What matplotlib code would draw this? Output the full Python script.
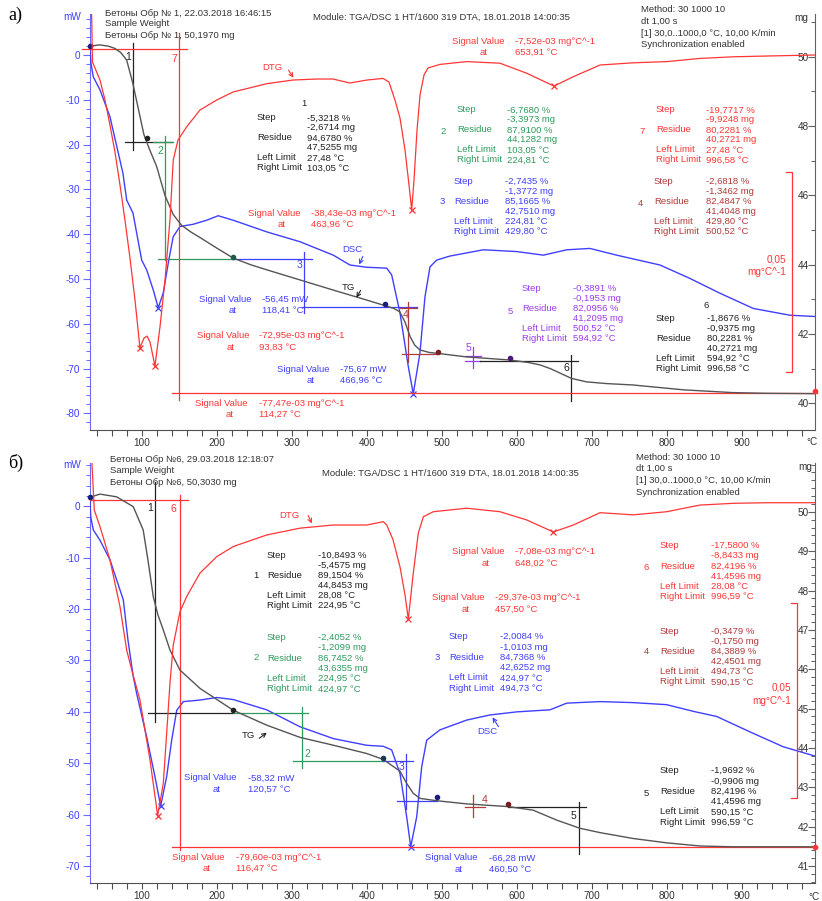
import matplotlib
matplotlib.use('Agg')
import matplotlib.pyplot as plt
from matplotlib.ticker import MultipleLocator, FixedLocator

plt.rcParams['font.family'] = ['Liberation Sans', 'DejaVu Sans']
plt.rcParams['axes.unicode_minus'] = False

W, H = 822, 901
FS = 6.8

# ---------------- data: panel a) ----------------
A_T_TG = [31, 44, 56, 64, 72, 80, 88, 96, 103, 110, 120, 131, 142, 153, 165, 178, 200, 222, 245, 267,
          311, 355, 400, 424, 436, 444, 451, 458, 464, 471, 483, 495, 533, 591, 615, 631, 645, 658, 673,
          693, 720, 755, 822, 888, 933, 998]
A_TG = [50.30, 50.34, 50.30, 50.24, 50.12, 49.90, 49.25, 48.45, 47.75, 47.35, 46.83, 46.00, 45.45, 45.14,
        44.95, 44.78, 44.48, 44.19, 44.00, 43.85, 43.56, 43.27, 42.98, 42.82, 42.74, 42.64, 42.35, 41.92,
        41.68, 41.54, 41.47, 41.44, 41.34, 41.25, 41.18, 41.11, 41.00, 40.87, 40.72, 40.62, 40.57, 40.53,
        40.39, 40.31, 40.29, 40.28]
A_T_DSC = [31, 32.5, 35.5, 44.4, 57.7, 75, 80, 88.4, 100, 106.7, 115.5, 122.1, 128.8, 135.5, 142, 151,
           168.8, 186.7, 202, 222, 266.7, 311, 355.5, 377.7, 400, 426.7, 433.3, 444.4, 455.5, 462.1, 471,
           477.7, 484.4, 493.3, 511, 555.5, 600, 635.5, 666.7, 697.7, 733.3, 791, 831, 871, 915.5, 964, 998]
A_DSC = [1.5, -2.0, -4.9, -7.8, -13.8, -26.4, -32.4, -35.3, -45.8, -48.0, -52.5, -56.45, -53.1, -46.4,
         -40.6, -38.3, -37.8, -36.9, -35.9, -36.9, -39.5, -41.7, -44.7, -46.9, -47.4, -47.6, -49.1, -57.6,
         -69.6, -75.67, -66.5, -54.0, -47.3, -45.8, -44.9, -43.5, -43.9, -44.7, -43.5, -43.2, -44.7, -46.9,
         -49.9, -53.2, -56.6, -58.1, -58.4]
A_T_DTG = [33.1, 34.4, 37.7, 44.4, 51.1, 57.7, 64.4, 71.1, 77.7, 84.4, 91.1, 97.7, 103.1, 107.1, 111.1,
           117.7, 124.4, 131.1, 137.7, 142.1, 148.4, 160, 177.7, 200, 221.7, 267.1, 301.7, 333.7, 355.1,
           377.7, 400.4, 421.7, 429.7, 437.7, 444.4, 451.1, 456.4, 460, 463.1, 467.1, 471.1, 476.4, 481.7,
           497.7, 533.3, 577.7, 613.3, 649.7, 675.1, 711.1, 755.1, 800.4, 844.4, 888.4, 933.7, 997.7]
A_DTG = [12, -1.5, -3, -6, -11, -17.25, -24, -32.25, -41, -50.5, -61, -72.95, -70.5, -70, -71.5, -77.47,
         -67.7, -56, -41, -26, -21, -17.7, -13.5, -11, -9, -6.9, -6, -5.75, -5.75, -6.75, -6, -5.6, -6.5,
         -11, -15.5, -23.5, -32.25, -38.43, -31, -18.5, -9.75, -4.75, -3, -2.1, -1.4, -1.8, -4.3, -7.52,
         -5.2, -2.25, -1.7, -1.4, -0.6, -0.2, 0, 0.25]

# ---------------- data: panel б) ----------------
B_T_TG = [31, 44.4, 66.7, 88.8, 102, 108.4, 115.5, 121.7, 128.8, 137.7, 151, 178, 222, 266.7, 311, 355.5,
          400, 422, 444.4, 453.3, 462, 471, 493.3, 533.3, 588.8, 622, 653, 684.4, 711, 755.5, 800, 844.4,
          888, 998]
B_TG = [50.37, 50.45, 50.38, 50.13, 49.54, 48.77, 47.84, 47.38, 47.00, 46.49, 45.98, 45.51, 44.96, 44.58,
        44.27, 44.07, 43.86, 43.71, 43.41, 43.10, 42.85, 42.72, 42.66, 42.58, 42.51, 42.42, 42.17, 41.96,
        41.85, 41.70, 41.59, 41.51, 41.49, 41.49]
B_T_DSC = [31, 32, 35.5, 44.4, 57.7, 75.5, 81.7, 88.4, 93.3, 106.7, 117.7, 125.3, 133.3, 140, 146.7, 155.5,
           177.7, 200, 222.1, 266.7, 311.1, 355.5, 400, 422.1, 433.3, 444.4, 453.3, 458.7, 466.7, 473.3, 480,
           497.7, 533.3, 564.4, 600, 644.4, 666.7, 711.1, 755.5, 800, 835.5, 866.7, 911.1, 955.5, 997.7]
B_DSC = [1.75, -2.0, -4.6, -6.6, -10.4, -18.2, -26, -32.8, -36.4, -44.9, -52.6, -58.32, -52.6, -45.5,
         -39.7, -38.0, -37.7, -37.2, -37.6, -39.6, -42.9, -45.2, -46.5, -46.7, -47.4, -52.0, -60.4, -66.28,
         -60.4, -50.7, -45.5, -43.5, -41.6, -40.6, -40.0, -39.6, -38.3, -38.0, -38.2, -38.6, -39.9, -40.9,
         -43.9, -46.8, -48.6]
B_T_DTG = [33.3, 36.8, 44.4, 57.7, 71.1, 80, 88.4, 97.7, 111.1, 121.3, 128.8, 133.3, 137.7, 142.1, 151,
           160, 177.7, 200, 222.1, 266.7, 311.1, 355.5, 400, 422.1, 426.7, 435, 444.4, 451.1, 455.5, 462.1,
           468.8, 475.5, 488.8, 533.3, 577.7, 613.3, 648.8, 675.5, 711.1, 755.5, 800, 844.4, 888.8, 933.3,
           997.7]
B_DTG = [12, -1.5, -5.7, -14.2, -26.2, -37.3, -43.6, -50, -65.4, -79.6, -71.4, -58.6, -45.8, -36, -27.5,
         -23.6, -17.6, -13.4, -10.8, -7.85, -6.1, -5.3, -5.3, -4.45, -5.3, -9, -16, -23.2, -29.37, -17.6,
         -7.4, -3.2, -1.9, -1.0, -1.9, -4.0, -7.08, -5.3, -2.15, -2.7, -1.9, -0.2, 0.25, 0.4, 0.4]

X_TICKS = [100, 200, 300, 400, 500, 600, 700, 800, 900]
A_MG_TICKS = [40, 42, 44, 46, 48, 50]
B_MG_TICKS = [41, 42, 43, 44, 45, 46, 47, 48, 49, 50]

RED = '#ff3535'
BLUE = '#3f3fff'
TGC = '#555555'
GREEN = '#2f9a5c'
DRED = '#b23a3a'
PURPLE = '#9c3cf0'
BLACK = '#222222'
NAVY = '#1c1c7a'

fig = plt.figure(figsize=(W / 100, H / 100), dpi=100)


def fx(x):
    return x / W


def fy(y):
    return 1 - y / H


def txt(x, y, s, color, fs=FS, ha='left', **kw):
    fig.text(fx(x), fy(y), s, color=color, fontsize=fs, ha=ha, va='center', **kw)


def arrow(x1, y1, x2, y2, color):
    fig.add_artist(matplotlib.patches.FancyArrowPatch(
        (fx(x1), fy(y1)), (fx(x2), fy(y2)), transform=fig.transFigure,
        arrowstyle='->', mutation_scale=7, color=color, lw=0.8))


def make_panel(top, bottom, mw_lim, mg_lim, dtg_lim, mg_ticks, mg_minor):
    rect = [fx(90), fy(bottom), (815 - 90) / W, (bottom - top) / H]
    ax = fig.add_axes(rect)
    axm = ax.twinx()
    axd = ax.twinx()
    for a in (ax, axm, axd):
        a.set_xlim(31.1, 997.7)
        a.patch.set_visible(False)
    ax.set_ylim(*mw_lim)
    axm.set_ylim(*mg_lim)
    axd.set_ylim(*dtg_lim)
    ax.spines['top'].set_visible(False)
    ax.spines['right'].set_visible(False)
    ax.spines['left'].set_color('#6a6aff')
    ax.spines['bottom'].set_color('#505050')
    for s in ('top', 'left', 'bottom'):
        axm.spines[s].set_visible(False)
    axm.spines['right'].set_color('#606060')
    axd.axis('off')
    ax.xaxis.set_major_locator(FixedLocator(X_TICKS))
    ax.xaxis.set_minor_locator(MultipleLocator(20))
    ax.tick_params(axis='x', which='both', direction='out', length=4, width=0.8,
                   color='#505050', labelsize=7.2, labelcolor='#333333', pad=2)
    ax.yaxis.set_major_locator(MultipleLocator(10))
    ax.yaxis.set_minor_locator(MultipleLocator(2))
    ax.tick_params(axis='y', which='major', direction='out', length=5, width=0.8,
                   color='#6a6aff', labelsize=7.2, labelcolor=BLUE, pad=2)
    ax.tick_params(axis='y', which='minor', direction='out', length=3, width=0.7, color='#6a6aff')
    axm.yaxis.set_major_locator(FixedLocator(mg_ticks))
    axm.yaxis.set_minor_locator(MultipleLocator(mg_minor))
    axm.tick_params(axis='y', which='major', direction='in', length=5, width=0.8,
                    color='#606060', labelsize=7.2, labelcolor='#333333', pad=-4.5)
    axm.tick_params(axis='y', which='minor', direction='in', length=3, width=0.7, color='#606060')
    axm.set_yticklabels([f'{v:g}' for v in mg_ticks])
    for t in axm.get_yticklabels():
        t.set_horizontalalignment('right')
    ax.set_xticklabels([str(t) for t in X_TICKS])
    return ax, axm, axd


# ======================= panel a) =======================
axA, axAm, axAd = make_panel(14, 429.7, (-83.66, 9.13), (39.24, 51.23), (-93.4, 10.5), A_MG_TICKS, 1)
axAm.plot(A_T_TG, A_TG, color=TGC, lw=1.0, zorder=3)
axA.plot(A_T_DSC, A_DSC, color=BLUE, lw=1.0, zorder=3)
axAd.plot(A_T_DTG, A_DTG, color=RED, lw=0.9, zorder=3)

stepA = [
    (BLACK, [(88.4, 50.40), (88.4, 47.31)]), (BLACK, [(77.7, 47.53), (140.4, 47.53)]),
    (GREEN, [(131, 47.71), (131, 44.13)]), (GREEN, [(115, 47.53), (141.3, 47.53)]),
    (GREEN, [(121.7, 44.15), (221.7, 44.15)]),
    (BLUE, [(221.7, 44.15), (327, 44.15)]), (BLUE, [(316.4, 44.37), (316.4, 42.60)]),
    (BLUE, [(313.3, 42.78), (466.7, 42.78)]),
    (DRED, [(455.5, 42.93), (455.5, 41.20)]), (DRED, [(444.4, 42.76), (466.7, 42.76)]),
    (DRED, [(446.7, 41.42), (493.3, 41.42)]),
    (PURPLE, [(542, 41.63), (542, 41.02)]), (PURPLE, [(531, 41.37), (553, 41.37)]),
    (PURPLE, [(531, 41.22), (553, 41.22)]),
    (BLACK, [(551, 41.22), (682, 41.22)]), (BLACK, [(672.4, 41.39), (672.4, 40.07)]),
    (RED, [(20.4, 50.21), (160, 50.21)]), (RED, [(149.7, 50.68), (149.7, 40.10)]),
    (RED, [(140.4, 40.29), (1000, 40.29)]),
]
for c, pts in stepA:
    axAm.plot([p[0] for p in pts], [p[1] for p in pts], color=c, lw=0.9, clip_on=False, zorder=2)
for (T, m, c) in [(31, 50.30, NAVY), (106.7, 47.66, BLACK), (222, 44.23, '#1f5a4a'), (424.4, 42.86, NAVY),
                  (495.5, 41.49, '#7a1f1f'), (591, 41.30, '#4a1a7a'), (997.7, 40.35, RED)]:
    axAm.plot([T], [m], 'o', ms=3, color=c, clip_on=False, zorder=4)
axAd.plot([97.7, 117.7, 460, 649.7], [-72.95, -77.47, -38.43, -7.52], 'x', color=RED, ms=5, mew=0.9)
axA.plot([122.1, 462.1], [-56.45, -75.67], 'x', color=BLUE, ms=5, mew=0.9)

# ======================= panel б) =======================
axB, axBm, axBd = make_panel(463, 883, (-73.3, 8.43), (40.57, 51.24), (-96.85, 10.56), B_MG_TICKS, 0.2)
axBm.plot(B_T_TG, B_TG, color=TGC, lw=1.0, zorder=3)
axB.plot(B_T_DSC, B_DSC, color=BLUE, lw=1.0, zorder=3)
axBd.plot(B_T_DTG, B_DTG, color=RED, lw=0.9, zorder=3)

stepB = [
    (BLACK, [(117.7, 50.76), (117.7, 44.67)]), (BLACK, [(108.8, 44.88), (221.7, 44.88)]),
    (RED, [(31, 50.31), (161.3, 50.31)]), (RED, [(151, 50.42), (151, 41.41)]),
    (RED, [(140.8, 41.49), (1000, 41.49)]),
    (GREEN, [(221.7, 44.88), (321.7, 44.88)]), (GREEN, [(313.3, 45.05), (313.3, 43.48)]),
    (GREEN, [(302, 43.67), (421.7, 43.67)]),
    (BLUE, [(421.7, 43.67), (462, 43.67)]), (BLUE, [(452, 43.84), (452, 42.44)]),
    (BLUE, [(440, 42.65), (493.3, 42.65)]),
    (DRED, [(542, 42.80), (542, 42.25)]), (DRED, [(531, 42.51), (558, 42.51)]),
    (BLACK, [(588.8, 42.49), (692.4, 42.49)]), (BLACK, [(683.5, 42.63), (683.5, 41.31)]),
]
for c, pts in stepB:
    axBm.plot([p[0] for p in pts], [p[1] for p in pts], color=c, lw=0.9, clip_on=False, zorder=2)
for (T, m, c) in [(31, 50.37, NAVY), (222, 44.96, BLACK), (422, 43.75, '#1f3a4a'), (493.3, 42.75, NAVY),
                  (588.8, 42.58, '#7a1f1f'), (997.7, 41.49, RED)]:
    axBm.plot([T], [m], 'o', ms=3, color=c, clip_on=False, zorder=4)
axBd.plot([121.3, 455.5, 648.8], [-79.6, -29.37, -7.08], 'x', color=RED, ms=5, mew=0.9)
axB.plot([125.3, 458.7], [-58.32, -66.28], 'x', color=BLUE, ms=5, mew=0.9)

# ======================= texts =======================
txt(8, 15, 'a)', 'black', fs=13, family=['Liberation Serif', 'DejaVu Serif'])
txt(8, 463, 'б)', 'black', fs=13, family=['Liberation Serif', 'DejaVu Serif'])

txt(72, 17, 'mW', BLUE, fs=7.2, ha='center')
txt(801, 18, 'mg', '#333333', fs=7.2, ha='center')
txt(811.7, 442, '°C', '#333333', fs=7.2, ha='center')
txt(72, 465, 'mW', BLUE, fs=7.2, ha='center')
txt(805, 467, 'mg', '#333333', fs=7.2, ha='center')
txt(814, 897, '°C', '#333333', fs=7.2, ha='center')

for i, s in enumerate(['Бетоны Обр № 1, 22.03.2018 16:46:15', 'Sample Weight', 'Бетоны Обр № 1, 50,1970 mg']):
    txt(105, 13 + 11 * i, s, '#333333')
txt(313, 17, 'Module: TGA/DSC 1 HT/1600 319 DTA, 18.01.2018 14:00:35', '#333333')
for i, s in enumerate(['Method: 30 1000 10', 'dt 1,00 s', '[1] 30,0..1000,0 °C, 10,00 K/min',
                       'Synchronization enabled']):
    txt(641, 10 + 11.5 * i, s, '#333333')

for i, s in enumerate(['Бетоны Обр №6, 29.03.2018 12:18:07', 'Sample Weight', 'Бетоны Обр №6, 50,3030 mg']):
    txt(110, 459 + 11.8 * i, s, '#333333')
txt(322, 473, 'Module: TGA/DSC 1 HT/1600 319 DTA, 18.01.2018 14:00:35', '#333333')
for i, s in enumerate(['Method: 30 1000 10', 'dt 1,00 s', '[1] 30,0..1000,0 °C, 10,00 K/min',
                       'Synchronization enabled']):
    txt(636, 457 + 11.8 * i, s, '#333333')

LABELS = ['Step', '', 'Residue', '', 'Left Limit', 'Right Limit']


def step_block(num, nx, ny, lx, vx, y0, dy, values, color):
    txt(nx, ny, num, color, ha='center')
    for i, (lab, val) in enumerate(zip(LABELS, values)):
        if lab:
            txt(lx, y0 + dy * i, lab, color)
        txt(vx, y0 + dy * i, val, color)


step_block('1', 304, 104, 257, 307, 118, 10,
           ['-5,3218 %', '-2,6714 mg', '94,6780 %', '47,5255 mg', '27,48 °C', '103,05 °C'], BLACK)
step_block('2', 443, 131, 457, 507, 110, 10,
           ['-6,7680 %', '-3,3973 mg', '87,9100 %', '44,1282 mg', '103,05 °C', '224,81 °C'], GREEN)
step_block('7', 642, 131, 656, 706, 110, 10,
           ['-19,7717 %', '-9,9248 mg', '80,2281 %', '40,2721 mg', '27,48 °C', '996,58 °C'], RED)
step_block('3', 442, 201, 454, 505, 181, 10.1,
           ['-2,7435 %', '-1,3772 mg', '85,1665 %', '42,7510 mg', '224,81 °C', '429,80 °C'], BLUE)
step_block('4', 640, 203, 654, 706, 181, 10.1,
           ['-2,6818 %', '-1,3462 mg', '82,4847 %', '41,4048 mg', '429,80 °C', '500,52 °C'], DRED)
step_block('5', 510, 311, 522, 573, 288.3, 10.1,
           ['-0,3891 %', '-0,1953 mg', '82,0956 %', '41,2095 mg', '500,52 °C', '594,92 °C'], PURPLE)
step_block('6', 706, 305, 656, 707, 318.3, 10.1,
           ['-1,8676 %', '-0,9375 mg', '80,2281 %', '40,2721 mg', '594,92 °C', '996,58 °C'], BLACK)

step_block('1', 256, 576, 267, 318, 555, 10.15,
           ['-10,8493 %', '-5,4575 mg', '89,1504 %', '44,8453 mg', '28,08 °C', '224,95 °C'], BLACK)
step_block('2', 256, 658, 267, 318, 637.7, 10.25,
           ['-2,4052 %', '-1,2099 mg', '86,7452 %', '43,6355 mg', '224,95 °C', '424,97 °C'], GREEN)
step_block('3', 437, 658, 449, 500, 636.7, 10.3,
           ['-2,0084 %', '-1,0103 mg', '84,7368 %', '42,6252 mg', '424,97 °C', '494,73 °C'], BLUE)
step_block('6', 646, 567, 660, 711, 545.7, 10.2,
           ['-17,5800 %', '-8,8433 mg', '82,4196 %', '41,4596 mg', '28,08 °C', '996,59 °C'], RED)
step_block('4', 646, 652, 660, 711, 631, 10.2,
           ['-0,3479 %', '-0,1750 mg', '84,3889 %', '42,4501 mg', '494,73 °C', '590,15 °C'], DRED)
step_block('5', 646, 793, 660, 711, 770.7, 10.3,
           ['-1,9692 %', '-0,9906 mg', '82,4196 %', '41,4596 mg', '590,15 °C', '996,59 °C'], BLACK)


def signal(x_sv, x_at, x_val, y, val, temp, color):
    txt(x_sv, y, 'Signal Value', color)
    txt(x_val, y, val, color)
    txt(x_at, y + 11.5, 'at', color)
    txt(x_val, y + 11.5, temp, color)


signal(452, 480, 515, 41, '-7,52e-03 mg°C^-1', '653,91 °C', RED)
signal(248, 278, 311, 213, '-38,43e-03 mg°C^-1', '463,96 °C', RED)
signal(199, 229, 262, 299, '-56,45 mW', '118,41 °C', BLUE)
signal(197, 227, 259, 336, '-72,95e-03 mg°C^-1', '93,83 °C', RED)
signal(277, 307, 340, 369, '-75,67 mW', '466,96 °C', BLUE)
signal(195, 226, 259, 403, '-77,47e-03 mg°C^-1', '114,27 °C', RED)

signal(452, 482, 515, 552, '-7,08e-03 mg°C^-1', '648,02 °C', RED)
signal(432, 462, 495, 598, '-29,37e-03 mg°C^-1', '457,50 °C', RED)
signal(184, 213, 248, 778, '-58,32 mW', '120,57 °C', BLUE)
signal(172, 203, 236, 857, '-79,60e-03 mg°C^-1', '116,47 °C', RED)
signal(425, 455, 489, 858, '-66,28 mW', '460,50 °C', BLUE)

for (xb, y1, y2, ty) in [(792, 172, 372, 259), (797, 603, 798, 688)]:
    fig.add_artist(matplotlib.lines.Line2D([fx(xb - 6), fx(xb), fx(xb), fx(xb - 6)],
                                           [fy(y1), fy(y1), fy(y2), fy(y2)], color=RED, lw=0.9))
    txt(xb - 6, ty, '0,05', RED, fs=7.2, ha='right')
    txt(xb - 6, ty + 13, 'mg°C^-1', RED, fs=7.2, ha='right')

txt(262, 68, 'DTG', RED)
arrow(287, 68, 295, 80, RED)
txt(342, 250, 'DSC', BLUE)
arrow(364, 254, 358, 267, BLUE)
txt(342, 287, 'TG', BLACK)
arrow(362, 288, 355, 300, BLACK)

txt(279, 515, 'DTG', RED)
arrow(307, 513, 313, 526, RED)
txt(242, 735, 'TG', BLACK)
arrow(257, 740, 269, 731, BLACK)
txt(477, 732, 'DSC', BLUE)
arrow(500, 729, 491, 715, BLUE)

for (x, y, s, c) in [(128, 57, '1', BLACK), (174, 59, '7', RED), (160, 151, '2', GREEN), (300, 265, '3', BLUE),
                     (406, 315, '4', DRED), (468, 348, '5', PURPLE), (566, 368, '6', BLACK),
                     (150, 508, '1', BLACK), (173, 509, '6', RED), (307, 754, '2', GREEN),
                     (402, 767, '3', BLUE), (485, 800, '4', DRED), (573, 816, '5', BLACK)]:
    txt(x, y, s, c, fs=7.5, ha='center')

fig.savefig('out.png', dpi=100)
